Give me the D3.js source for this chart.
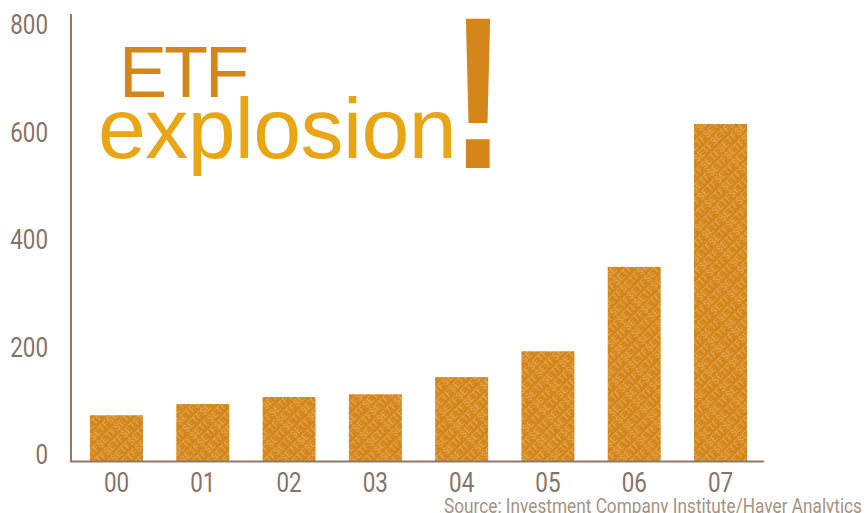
<!DOCTYPE html>
<html>
<head>
<meta charset="utf-8">
<script src="https://cdn.jsdelivr.net/npm/d3@7"></script>
<style>
  body { margin: 0; background: #fff; }
  svg { display: block; }
  .tick-label { font-family: Roboto, "DejaVu Sans Condensed", sans-serif; fill: #84746a; }
</style>
</head>
<body>
<div id="chart"></div>
<script>
// ETF count by year
var years = ["00", "01", "02", "03", "04", "05", "06", "07"];
var counts = [87, 108, 121, 126, 158, 206, 363, 629];
var yTicks = [0, 200, 400, 600, 800];
var sourceNote = "Source: Investment Company Institute/Haver Analytics";

var width = 867, height = 513;
var axisColor = "#8c7b6b";
var narrow = 0.8; // squeeze for the condensed look

var svg = d3.select("#chart").append("svg")
	.attr("width", width)
	.attr("height", height);

// tiled "ETF$" texture for the bars
var defs = svg.append("defs");
var pat = defs.append("pattern")
	.attr("id", "etf-pattern")
	.attr("patternUnits", "userSpaceOnUse")
	.attr("width", 24)
	.attr("height", 10)
	.attr("patternTransform", "rotate(-45)");
pat.append("rect")
	.attr("width", 24).attr("height", 10)
	.attr("fill", "#d4861a");
pat.append("text")
	.attr("x", 0).attr("y", 8)
	.attr("font-family", "Roboto, sans-serif")
	.attr("font-size", 9)
	.attr("textLength", 24)
	.attr("lengthAdjust", "spacingAndGlyphs")
	.attr("fill", "#e6ad5e")
	.text("ETF$");

var x = d3.scaleBand()
	.domain(years)
	.range([73, 764])
	.paddingInner(0.386)
	.paddingOuter(0.197);

var y = d3.scaleLinear()
	.domain([0, 800])
	.range([462, 32]);

// bars
svg.append("g").selectAll("rect")
	.data(counts)
	.enter()
	.append("rect")
		.attr("x", function(d, i) { return x(years[i]); })
		.attr("y", function(d) { return y(d); })
		.attr("width", x.bandwidth())
		.attr("height", function(d) { return y(0) - y(d); })
		.attr("fill", "url(#etf-pattern)");

// axes lines
svg.append("line")
	.attr("x1", 71).attr("x2", 71)
	.attr("y1", 14).attr("y2", 462)
	.attr("stroke", axisColor).attr("stroke-width", 2);
svg.append("line")
	.attr("x1", 70).attr("x2", 764)
	.attr("y1", 461.5).attr("y2", 461.5)
	.attr("stroke", axisColor).attr("stroke-width", 2);

// y labels (sit a little above their value)
svg.append("g").selectAll("text")
	.data(yTicks)
	.enter()
	.append("text")
		.attr("class", "tick-label")
		.attr("transform", function(d) { return "translate(48," + (y(d) - 8) + ") scale(" + narrow + ",1)"; })
		.attr("dy", "0.36em")
		.attr("text-anchor", "end")
		.attr("font-size", 28)
		.text(function(d) { return d; });

// x labels
svg.append("g").selectAll("text")
	.data(years)
	.enter()
	.append("text")
		.attr("class", "tick-label")
		.attr("transform", function(d) { return "translate(" + (x(d) + x.bandwidth() / 2) + ",492) scale(" + narrow + ",1)"; })
		.attr("text-anchor", "middle")
		.attr("font-size", 28)
		.text(function(d) { return d; });

// title
svg.append("text")
	.attr("x", 119).attr("y", 97)
	.attr("font-family", "Liberation Sans, Arial, sans-serif")
	.attr("font-size", 72)
	.attr("letter-spacing", -3)
	.attr("fill", "#d4861a")
	.text("ETF");
svg.append("text")
	.attr("x", 98).attr("y", 158)
	.attr("font-family", "Liberation Sans, Arial, sans-serif")
	.attr("font-size", 86)
	.attr("letter-spacing", -0.6)
	.attr("fill", "#e8a514")
	.text("explosion");
svg.append("text")
	.attr("transform", "translate(478,168) scale(0.8,1.03)")
	.attr("text-anchor", "middle")
	.attr("font-family", "Liberation Sans, Arial, sans-serif")
	.attr("font-weight", "bold")
	.attr("font-size", 211)
	.attr("fill", "#d4861a")
	.text("!");

// source
svg.append("text")
	.attr("x", 444).attr("y", 513)
	.attr("font-family", "Roboto, sans-serif")
	.attr("font-size", 21)
	.attr("textLength", 418)
	.attr("lengthAdjust", "spacingAndGlyphs")
	.attr("fill", "#a39383")
	.text(sourceNote);
</script>
</body>
</html>
